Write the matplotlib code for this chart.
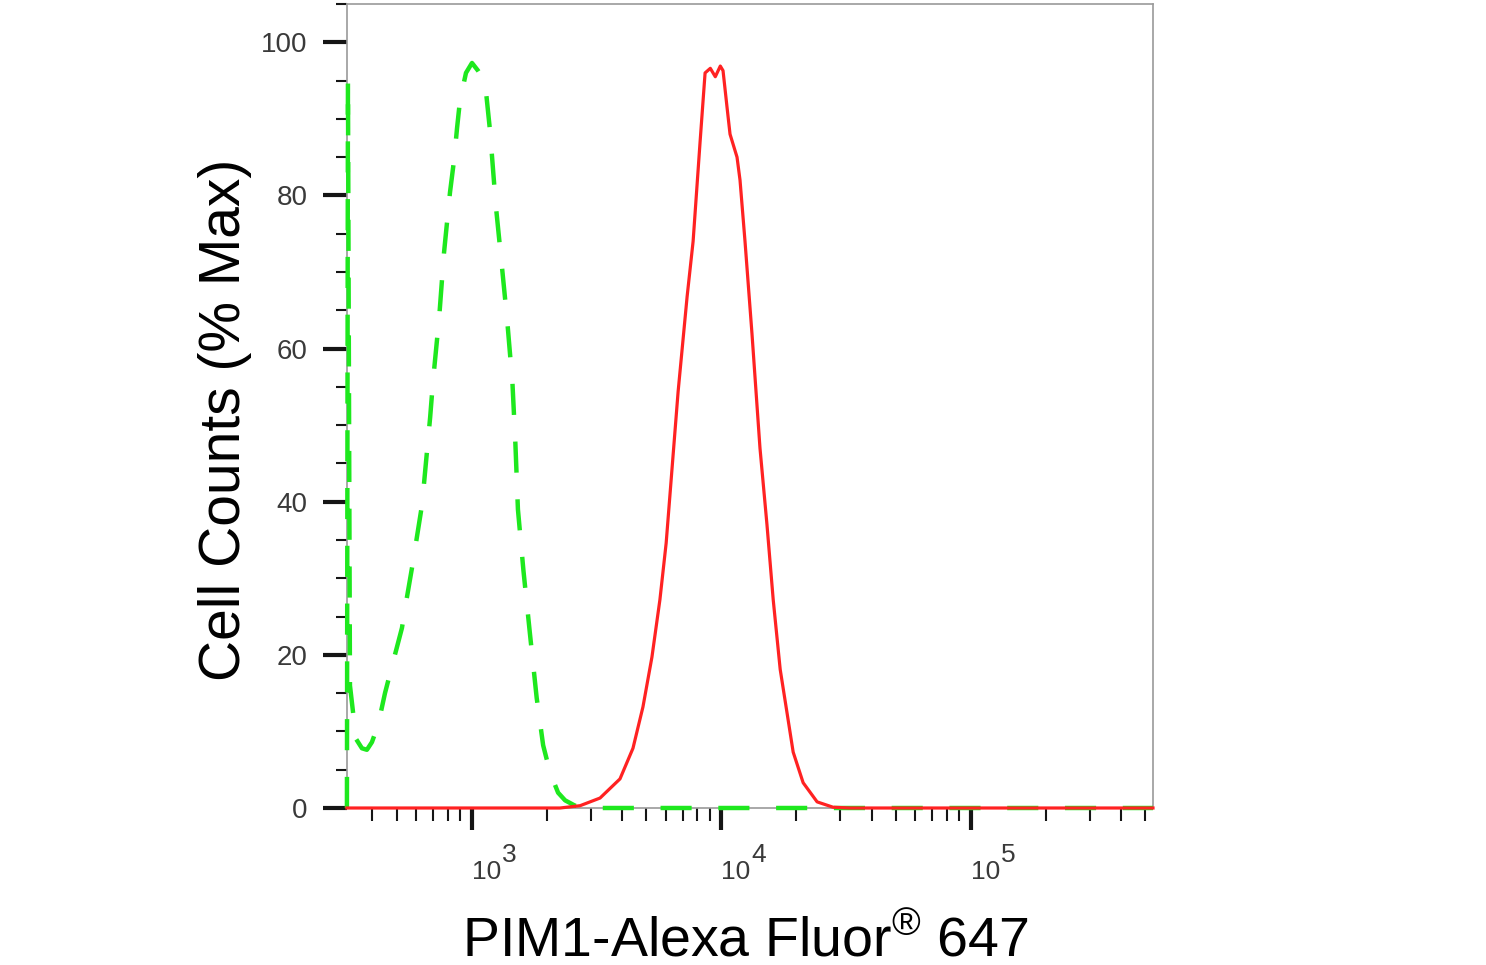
import matplotlib
matplotlib.use("Agg")
import matplotlib.pyplot as plt
from matplotlib.ticker import FixedLocator, NullFormatter
from matplotlib import font_manager

# control / isotype histogram (green dashed)
green_x = [316, 319, 325, 344, 363, 380, 398, 421, 449, 483, 525, 545, 577, 632,
           681, 700, 740, 774, 818, 849, 873, 897, 948, 1002, 1059, 1130, 1183,
           1250, 1309, 1384, 1455, 1496, 1531, 1611, 1710, 1820, 1932, 2061,
           2218, 2366, 2594, 3266, 537000]
green_y = [0, 95, 16, 9, 7.8, 7.6, 8.6, 10.8, 15, 19, 23.5, 26.8, 31.5, 39.6,
           51, 55.9, 64, 72.5, 80.4, 84.6, 88.8, 92.4, 96, 97.3, 96.3, 94.8, 88.5,
           78.5, 72, 64, 55.6, 47.5, 39, 31, 22.8, 14.4, 8.2, 4.6,
           2.0, 1.0, 0.3, 0, 0]

# PIM1 stained histogram (red)
red_x = [316, 2259, 2716, 3266, 3926, 4426, 4853, 5272, 5675, 6012, 6353, 6714,
         7295, 7709, 8222, 8610, 9036, 9462, 9908, 10160, 10544, 10839, 11561,
         11885, 12445, 13275, 14289, 15241, 16144, 17219, 18365, 19409, 21281,
         24210, 28054, 32810, 537000]
red_y = [0, 0, 0.3, 1.3, 3.8, 7.8, 13.2, 19.7, 27.2, 34.6, 44.5, 54.4,
         66.8, 74, 87, 96, 96.6, 95.5, 96.9, 96.3, 91.5, 88, 85,
         82, 74, 61.9, 47, 37, 27.2, 18.1, 12.3, 7.3, 3.3,
         0.8, 0.1, 0, 0]

x_major = [1e3, 1e4, 1e5]
x_exp = ["3", "4", "5"]
x_minor = [m * 10 ** e for e in (2, 3, 4, 5) for m in range(2, 10)]
y_major = [0, 20, 40, 60, 80, 100]
y_minor = list(range(0, 106, 5))

installed = {f.name for f in font_manager.fontManager.ttflist}
tick_font = "Liberation Sans Narrow" if "Liberation Sans Narrow" in installed else "Liberation Sans"

plt.rcParams["font.family"] = [tick_font, "DejaVu Sans"]
plt.rcParams["mathtext.fontset"] = "custom"
plt.rcParams["mathtext.rm"] = "Liberation Sans"

fig = plt.figure(figsize=(14.86, 9.65), dpi=100)
ax = fig.add_axes([347 / 1486, 1 - 808 / 965, (1153 - 347) / 1486, (808 - 4) / 965])

ax.plot(green_x, green_y, color="#1ee81e", lw=3.2, dashes=(7, 6), zorder=3, clip_on=False)
ax.plot(red_x, red_y, color="#ff2222", lw=2.3, zorder=4, clip_on=False)

ax.set_xscale("log")
ax.set_xlim(10 ** 2.5, 10 ** 5.73)
ax.set_ylim(0, 105)

ax.xaxis.set_major_locator(FixedLocator(x_major))
ax.xaxis.set_minor_locator(FixedLocator(x_minor))
ax.xaxis.set_major_formatter(NullFormatter())
ax.xaxis.set_minor_formatter(NullFormatter())
ax.yaxis.set_major_locator(FixedLocator(y_major))
ax.yaxis.set_minor_locator(FixedLocator(y_minor))

ax.tick_params(axis="x", which="major", length=16, width=3, color="#151515")
ax.tick_params(axis="x", which="minor", length=9, width=1.5, color="#151515")
ax.tick_params(axis="y", which="major", length=17, width=3, color="#151515",
               pad=11.5, labelsize=20, labelcolor="#3a3a3a")
ax.tick_params(axis="y", which="minor", length=8, width=1.5, color="#151515")

for s in ax.spines.values():
    s.set_color("#9a9a9a")
    s.set_linewidth(1.2)

# decade labels drawn by hand so the exponent keeps full size
for v, e in zip(x_major, x_exp):
    ax.annotate("10", xy=(v, 0), xycoords=("data", "axes fraction"),
                xytext=(0, -71), textcoords="offset pixels", ha="left",
                va="baseline", fontsize=19, color="#3a3a3a")
    ax.annotate(e, xy=(v, 0), xycoords=("data", "axes fraction"),
                xytext=(30, -54), textcoords="offset pixels", ha="left",
                va="baseline", fontsize=19, color="#3a3a3a")

fig.text(225 / 1486, 1 - 420 / 965, "Cell Counts (% Max)", rotation=90,
         ha="center", va="center", fontsize=41, family="Liberation Sans")
fig.text(745 / 1486, 1 - 955 / 965, r"PIM1-Alexa Fluor$^{\mathrm{®}}$ 647",
         ha="center", va="baseline", fontsize=40, family="Liberation Sans")

fig.savefig("out.png", dpi=100)
plt.close(fig)
